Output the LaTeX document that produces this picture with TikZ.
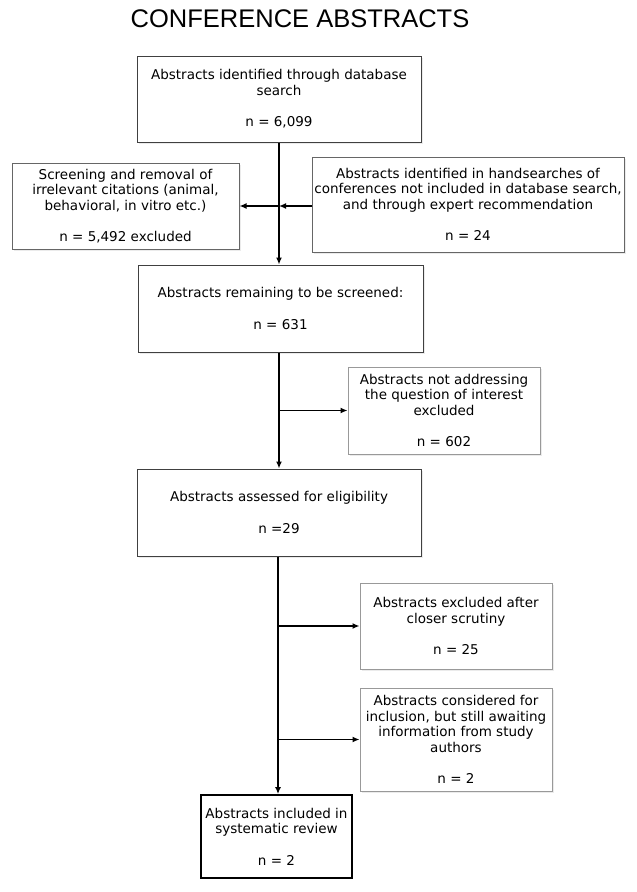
\documentclass[tikz,border=0pt]{standalone}
\usepackage{fontspec}
\setmainfont{DejaVu Sans}
\newfontfamily\titlefont{Liberation Sans}
\usetikzlibrary{arrows.meta,shadows}
\begin{document}
\begin{tikzpicture}[x=1pt,y=-1pt,
  every node/.style={font=\fontsize{13.5}{15.5}\selectfont},
  basebox/.style={rectangle, inner sep=0pt, align=center, fill=white,
     drop shadow={shadow xshift=1.5pt, shadow yshift=-1.5pt, fill=black!15}},
  darkbox/.style={basebox, draw=black!75, line width=1pt},
  midbox/.style={basebox, draw=black!60, line width=1pt},
  lightbox/.style={basebox, draw=black!40, line width=1pt},
  finalbox/.style={rectangle, inner sep=0pt, align=center, fill=white, draw=black, line width=1.8pt},
  arr/.style={line width=1.4pt, -{Latex[length=7pt,width=6pt]}}]
\useasboundingbox (0,0) rectangle (637,892);
\fill[white] (0,0) rectangle (637,892);

\node[anchor=base, font=\titlefont\fontsize{25.5}{28}\selectfont] (title) at (300,27) {CONFERENCE ABSTRACTS};

\node[darkbox, minimum width=284pt, minimum height=86pt] (b1) at (279,99)
  {Abstracts identified through database\\search\\[16pt]n = 6,099};
\node[midbox, minimum width=227pt, minimum height=86pt] (b2) at (125.5,206)
  {Screening and removal of\\irrelevant citations (animal,\\behavioral, in vitro etc.)\\[16pt]n = 5,492 excluded};
\node[midbox, minimum width=312pt, minimum height=95pt] (b3) at (468,204.5)
  {Abstracts identified in handsearches of\\conferences not included in database search,\\and through expert recommendation\\[16pt]n = 24};
\node[darkbox, minimum width=285pt, minimum height=87pt] (b4) at (280.5,308.5)
  {Abstracts remaining to be screened:\\[16pt]n = 631};
\node[lightbox, minimum width=192pt, minimum height=87pt] (b5) at (444,410.5)
  {Abstracts not addressing\\the question of interest\\excluded\\[16pt]n = 602};
\node[darkbox, minimum width=284pt, minimum height=87pt] (b6) at (279,512.5)
  {Abstracts assessed for eligibility\\[16pt]n =29};
\node[lightbox, minimum width=192pt, minimum height=86pt] (b7) at (456,626)
  {Abstracts excluded after\\closer scrutiny\\[16pt]n = 25};
\node[lightbox, minimum width=192pt, minimum height=103pt] (b8) at (456,739.5)
  {Abstracts considered for\\inclusion, but still awaiting\\information from study\\authors\\[16pt]n = 2};
\node[finalbox, minimum width=151pt, minimum height=83pt] (b9) at (276.5,836.5)
  {Abstracts included in\\systematic review\\[16pt]n = 2};

\coordinate (j1) at (b1.south |- b2.east);
\draw[arr] (b1.south) -- (b1.south |- b4.north);
\draw[arr] (b3.west |- j1) -- (j1);
\draw[arr] (j1) -- (b2.east);

\draw[arr] (b4.south -| b1.south) -- (b1.south |- b6.north);
\draw[arr] (b5.west -| b1.south) -- (b5.west);

\coordinate (k) at (278,0);
\draw[arr] (k |- b6.south) -- (k |- b9.north);
\draw[arr] (k |- b7.west) -- (b7.west);
\draw[arr] (k |- b8.west) -- (b8.west);
\end{tikzpicture}
\end{document}
